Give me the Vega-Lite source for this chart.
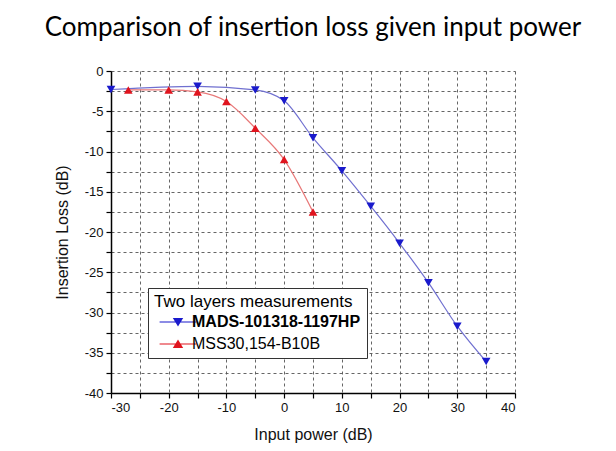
{
  "$schema": "https://vega.github.io/schema/vega-lite/v6.json",
  "autosize": "none",
  "width": 404,
  "height": 322,
  "padding": {"left": 111, "top": 71, "right": 101, "bottom": 58},
  "background": "white",
  "title": {"text": "Comparison of insertion loss given input power", "font": "Lato", "fontSize": 26, "fontWeight": "normal", "color": "black", "anchor": "middle", "offset": 24},
  "config": {
    "view": {"stroke": null},
    "axis": {"labelFont": "Liberation Sans", "titleFont": "Liberation Sans", "labelFontSize": 13, "titleFontSize": 16, "titleFontWeight": "normal", "labelColor": "#111", "titleColor": "#111", "domainColor": "black", "domainWidth": 1.5, "tickColor": "black", "tickWidth": 1.2, "tickSize": 5, "gridColor": "#555", "gridDash": [3, 3], "gridWidth": 1, "gridOpacity": 0.9}
  },
  "data": {"values": [
    {"x": -30, "y": -2.3, "series": "MADS-101318-1197HP"},
    {"x": -15, "y": -1.9, "series": "MADS-101318-1197HP"},
    {"x": -5, "y": -2.35, "series": "MADS-101318-1197HP"},
    {"x": 0, "y": -3.7, "series": "MADS-101318-1197HP"},
    {"x": 5, "y": -8.3, "series": "MADS-101318-1197HP"},
    {"x": 10, "y": -12.4, "series": "MADS-101318-1197HP"},
    {"x": 15, "y": -16.8, "series": "MADS-101318-1197HP"},
    {"x": 20, "y": -21.4, "series": "MADS-101318-1197HP"},
    {"x": 25, "y": -26.3, "series": "MADS-101318-1197HP"},
    {"x": 30, "y": -31.7, "series": "MADS-101318-1197HP"},
    {"x": 35, "y": -36.1, "series": "MADS-101318-1197HP"},
    {"x": -27, "y": -2.35, "series": "MSS30,154-B10B"},
    {"x": -20, "y": -2.35, "series": "MSS30,154-B10B"},
    {"x": -15, "y": -2.6, "series": "MSS30,154-B10B"},
    {"x": -10, "y": -3.8, "series": "MSS30,154-B10B"},
    {"x": -5, "y": -7.1, "series": "MSS30,154-B10B"},
    {"x": 0, "y": -11.0, "series": "MSS30,154-B10B"},
    {"x": 5, "y": -17.5, "series": "MSS30,154-B10B"}
  ]},
  "encoding": {
    "x": {"field": "x", "type": "quantitative", "scale": {"domain": [-30, 40], "nice": false, "zero": false},
      "axis": {"title": "Input power (dB)", "values": [-30,-25,-20,-15,-10,-5,0,5,10,15,20,25,30,35,40], "labelExpr": "datum.value % 10 == 0 ? replace(datum.label, '−', '-') : ''", "titlePadding": 12, "labelPadding": 3}},
    "y": {"field": "y", "type": "quantitative", "scale": {"domain": [-40, 0], "nice": false, "zero": false},
      "axis": {"title": "Insertion Loss (dB)", "values": [0,-2.5,-5,-7.5,-10,-12.5,-15,-17.5,-20,-22.5,-25,-27.5,-30,-32.5,-35,-37.5,-40], "labelExpr": "datum.value % 5 == 0 ? replace(datum.label, '−', '-') : ''", "titlePadding": 14, "labelPadding": 3}},
    "color": {"field": "series", "type": "nominal", "scale": {"domain": ["MADS-101318-1197HP", "MSS30,154-B10B"], "range": ["#1a1acc", "#e0141e"]},
      "legend": {"title": "Two layers measurements", "orient": "none", "legendX": 37, "legendY": 217, "direction": "vertical",
        "titleFont": "Liberation Sans", "titleFontSize": 17, "titleFontWeight": "normal", "titleColor": "black", "titlePadding": 3, "titleLimit": 400,
        "labelFont": "Liberation Sans", "labelFontSize": 16, "labelColor": "black", "labelLimit": 400,
        "labelFontWeight": {"expr": "datum.value == 'MADS-101318-1197HP' ? 'bold' : 'normal'"},
        "symbolType": {"expr": "datum.value == 'MADS-101318-1197HP' ? 'M-4.6,-0.12H4.6V0.12H-4.6ZM-1.3,-1L1.3,-1L0,1.1Z' : 'M-4.6,-0.12H4.6V0.12H-4.6ZM1.3,1L-1.3,1L0,-1.1Z'"},
        "symbolSize": 64, "symbolOffset": 16, "labelOffset": 6, "rowPadding": 6, "symbolStrokeWidth": 0, "symbolOpacity": 1,
        "padding": 6, "strokeColor": "#333", "fillColor": "white"}}
  },
  "layer": [
    {"transform": [{"filter": "datum.series == 'MADS-101318-1197HP'"}],
     "mark": {"type": "line", "interpolate": "monotone", "strokeWidth": 1.2, "color": "#7070d0"}, "encoding": {"color": null}},
    {"transform": [{"filter": "datum.series == 'MSS30,154-B10B'"}],
     "mark": {"type": "line", "interpolate": "monotone", "strokeWidth": 1.2, "color": "#e87878"}, "encoding": {"color": null}},
    {"transform": [{"filter": "datum.series == 'MADS-101318-1197HP'"}],
     "mark": {"type": "point", "filled": true, "opacity": 1, "size": 75, "shape": "triangle-down"}},
    {"transform": [{"filter": "datum.series == 'MSS30,154-B10B'"}],
     "mark": {"type": "point", "filled": true, "opacity": 1, "size": 75, "shape": "triangle-up"}}
  ]
}
